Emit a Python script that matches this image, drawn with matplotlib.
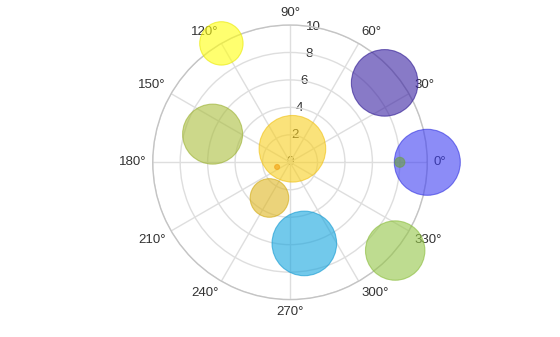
import numpy as np
import matplotlib
matplotlib.use("Agg")
import matplotlib.pyplot as plt

plt.rcParams['font.family'] = ['Liberation Sans', 'DejaVu Sans']

# data: angle (deg), radius, bubble size (pixel radius)
angles = [120, 40, 0, 0, 160, 80, 200, 240, 280, 320]
radii = [10, 9, 10, 8, 6, 1, 1, 3, 6, 10]
sizes = [21.7, 33.3, 33, 5, 30, 33.3, 2.5, 19.3, 32.3, 29.7]
colors = ['#ffff10', '#3921a3', '#3f3ff3', '#6aa040', '#aabe3c',
          '#f8cf21', '#f0a010', '#dfb721', '#14a5df', '#94c646']
edges = ['#e8e800', '#2a1590', '#3030e0', '#6aa040', '#9ab030',
         '#f0c010', '#f0a010', '#d0a810', '#1098d0', '#88bb38']

theta_ticks = list(range(0, 360, 30))
theta_labels = [f"{t}°" for t in theta_ticks]
r_ticks = [0, 2, 4, 6, 8, 10]
r_labels = [str(r) for r in r_ticks]

dpi = 100
fig = plt.figure(figsize=(5.6, 3.37), dpi=dpi)
ax = fig.add_axes([0.2727, 0.111, 0.4904, 0.8148], projection='polar')
ax.set_ylim(0, 10)
ax.set_xticks(np.deg2rad(theta_ticks))
ax.set_xticklabels([])
ax.set_yticks(r_ticks)
ax.set_yticklabels([])
ax.grid(True, color='#dedede', linewidth=1.0)
ax.spines['polar'].set_color('#c4c4c4')
ax.spines['polar'].set_linewidth(1.0)

pad = 4.5  # points
for t, lab in zip(theta_ticks, theta_labels):
    c, s_ = np.cos(np.deg2rad(t)), np.sin(np.deg2rad(t))
    ha = 'left' if c > 0.1 else ('right' if c < -0.1 else 'center')
    va = 'bottom' if s_ > 0.1 else ('top' if s_ < -0.1 else 'center')
    ax.annotate(lab, xy=(np.deg2rad(t), 10), xytext=(pad * c, pad * s_),
                textcoords='offset points', ha=ha, va=va,
                fontsize=9.5, color='#333333', zorder=1, annotation_clip=False)
for r, lab in zip(r_ticks, r_labels):
    ax.text(np.deg2rad(80), r, lab, ha='center', va='center',
            fontsize=9.5, color='#333333', zorder=1)

s = [(2 * r * 72 / dpi) ** 2 for r in sizes]
ax.scatter(np.deg2rad(angles), radii, s=s, c=colors, alpha=0.6,
           edgecolors=edges, linewidths=0.8, zorder=3, clip_on=False)

fig.savefig('out.png', dpi=dpi)
